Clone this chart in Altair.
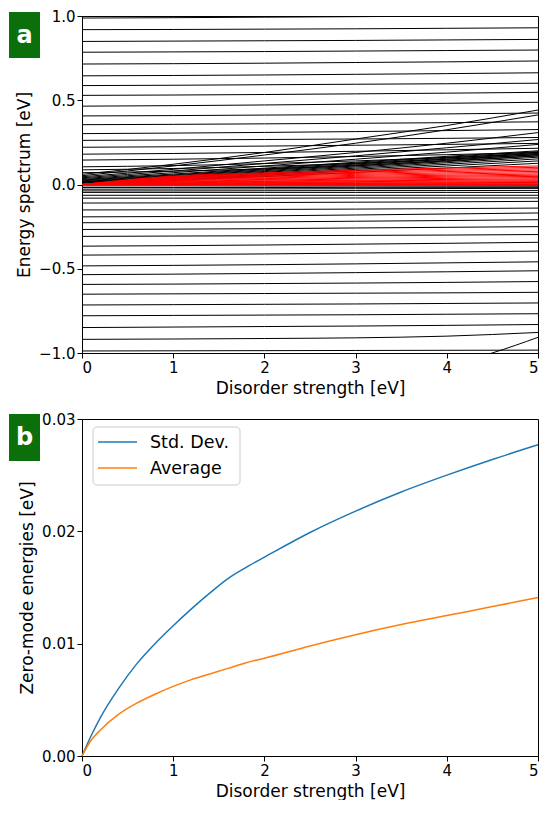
import altair as alt
import pandas as pd

# ---------------- Panel a: energy spectrum vs disorder ----------------
x_grid = [0, 1, 2, 3, 4, 5]

black_levels = [
    [0.988, 0.990, 0.993, 0.996, 1.000, 1.004],
    [0.919, 0.920, 0.922, 0.924, 0.927, 0.930],
    [0.849, 0.851, 0.853, 0.855, 0.858, 0.861],
    [0.785, 0.787, 0.789, 0.792, 0.795, 0.798],
    [0.715, 0.717, 0.720, 0.724, 0.728, 0.733],
    [0.645, 0.647, 0.650, 0.654, 0.658, 0.663],
    [0.587, 0.589, 0.592, 0.595, 0.598, 0.601],
    [0.529, 0.531, 0.534, 0.538, 0.542, 0.547],
    [0.465, 0.468, 0.472, 0.477, 0.482, 0.488],
    [0.407, 0.409, 0.412, 0.415, 0.419, 0.424],
    [0.355, 0.357, 0.360, 0.363, 0.367, 0.372],
    [0.302, 0.305, 0.309, 0.314, 0.320, 0.326],
    [0.262, 0.264, 0.267, 0.270, 0.274, 0.279],
    [0.221, 0.224, 0.228, 0.233, 0.238, 0.244],
    [0.180, 0.184, 0.190, 0.197, 0.206, 0.215],
    [0.145, 0.150, 0.157, 0.166, 0.177, 0.190],
    [0.105, 0.112, 0.124, 0.140, 0.160, 0.182],
    [0.087, 0.095, 0.108, 0.125, 0.150, 0.176],
    [0.070, 0.079, 0.093, 0.112, 0.140, 0.170],
    [0.060, 0.120, 0.190, 0.270, 0.350, 0.442],
    [0.052, 0.110, 0.175, 0.245, 0.325, 0.413],
    [0.046, 0.090, 0.140, 0.190, 0.245, 0.308],
    [0.040, 0.080, 0.125, 0.170, 0.218, 0.267],
    [0.035, 0.070, 0.110, 0.150, 0.192, 0.238],
    [0.030, 0.062, 0.097, 0.132, 0.167, 0.200],
    [0.026, 0.057, 0.092, 0.127, 0.162, 0.195],
    [0.022, 0.053, 0.087, 0.121, 0.156, 0.190],
    [0.018, 0.049, 0.082, 0.116, 0.150, 0.185],
    [0.015, 0.045, 0.077, 0.110, 0.144, 0.178],
    [0.012, 0.041, 0.072, 0.104, 0.136, 0.170],
    [0.009, 0.037, 0.066, 0.097, 0.129, 0.162],
    [0.006, 0.033, 0.060, 0.090, 0.120, 0.152],
    [0.004, 0.029, 0.054, 0.082, 0.110, 0.140],
    [0.002, 0.024, 0.047, 0.072, 0.098, 0.126],
    [-0.008, -0.008, -0.009, -0.009, -0.010, -0.010],
    [-0.018, -0.018, -0.018, -0.017, -0.017, -0.017],
    [-0.028, -0.027, -0.026, -0.025, -0.024, -0.023],
    [-0.038, -0.038, -0.037, -0.036, -0.036, -0.035],
    [-0.047, -0.047, -0.047, -0.047, -0.047, -0.047],
    [-0.064, -0.064, -0.064, -0.064, -0.064, -0.064],
    [-0.081, -0.081, -0.081, -0.080, -0.080, -0.080],
    [-0.110, -0.109, -0.107, -0.105, -0.103, -0.100],
    [-0.151, -0.150, -0.148, -0.146, -0.143, -0.140],
    [-0.192, -0.190, -0.186, -0.181, -0.175, -0.169],
    [-0.227, -0.225, -0.222, -0.218, -0.214, -0.209],
    [-0.267, -0.265, -0.262, -0.258, -0.254, -0.250],
    [-0.308, -0.306, -0.304, -0.302, -0.300, -0.297],
    [-0.366, -0.363, -0.359, -0.354, -0.349, -0.343],
    [-0.419, -0.416, -0.412, -0.407, -0.401, -0.395],
    [-0.483, -0.480, -0.476, -0.471, -0.465, -0.459],
    [-0.535, -0.532, -0.528, -0.523, -0.518, -0.512],
    [-0.593, -0.591, -0.588, -0.585, -0.581, -0.576],
    [-0.651, -0.649, -0.647, -0.645, -0.643, -0.640],
    [-0.715, -0.713, -0.711, -0.709, -0.706, -0.703],
    [-0.779, -0.777, -0.775, -0.773, -0.770, -0.767],
    [-0.849, -0.846, -0.843, -0.840, -0.836, -0.831],
    [-0.919, -0.917, -0.914, -0.910, -0.900, -0.878],
    [-0.988, -0.987, -0.986, -0.985, -0.984, -0.983],
    [-1.200, -1.170, -1.130, -1.100, -1.062, -0.907],
]

red_levels = [
    [0.0, -0.003, -0.004, -0.005, -0.005, -0.006],
    [0.0, -0.001, -0.002, -0.002, -0.003, -0.003],
    [0.0, 0.000, 0.000, 0.000, 0.000, 0.000],
    [0.0, 0.002, 0.003, 0.003, 0.004, 0.004],
    [0.0, 0.004, 0.005, 0.006, 0.007, 0.008],
    [0.0, 0.005, 0.008, 0.009, 0.011, 0.012],
    [0.0, 0.008, 0.011, 0.013, 0.015, 0.017],
    [0.0, 0.010, 0.014, 0.017, 0.020, 0.022],
    [0.0, 0.013, 0.018, 0.022, 0.025, 0.028],
    [0.0, 0.015, 0.021, 0.026, 0.030, 0.034],
    [0.0, 0.018, 0.026, 0.032, 0.036, 0.041],
    [0.0, 0.022, 0.030, 0.037, 0.043, 0.048],
    [0.0, 0.025, 0.035, 0.042, 0.049, 0.055],
    [0.0, 0.028, 0.039, 0.048, 0.055, 0.062],
    [0.0, 0.032, 0.044, 0.054, 0.062, 0.070],
    [0.0, 0.035, 0.049, 0.060, 0.069, 0.078],
    [0.0, 0.039, 0.054, 0.066, 0.077, 0.086],
    [0.0, 0.042, 0.059, 0.072, 0.084, 0.094],
    [0.0, 0.046, 0.064, 0.079, 0.091, 0.102],
    [0.0, 0.050, 0.069, 0.085, 0.098, 0.110],
]

# ---------------- Panel b: zero-mode statistics ----------------
disorder_b = [0.0, 0.1, 0.2, 0.4, 0.6, 0.8, 1.0, 1.2, 1.4, 1.6, 1.8,
              2.0, 2.5, 3.0, 3.5, 4.0, 4.5, 5.0]
std_dev = [0.0, 0.0018, 0.0034, 0.0060, 0.0082, 0.0100, 0.0116, 0.0131,
           0.0145, 0.0158, 0.0168, 0.0177, 0.0199, 0.0218, 0.0235, 0.0250,
           0.0264, 0.0277]
average = [0.0, 0.0014, 0.0023, 0.0037, 0.0047, 0.0055, 0.0062, 0.0068,
           0.0073, 0.0078, 0.0083, 0.0087, 0.0098, 0.0108, 0.0117, 0.0125,
           0.0133, 0.0141]
series_names = ["Std. Dev.", "Average"]
series_colors = ["#1f77b4", "#ff7f0e"]
legend_rows = [0, 1]

FONT = "DejaVu Sans"
GREEN = "#0b700b"
H = 337
W = 456


def lines_frame(levels, prefix):
    rows = []
    for i, lev in enumerate(levels):
        for xv, ev in zip(x_grid, lev):
            rows.append({"line": f"{prefix}{i}", "x": xv, "E": ev})
    return pd.DataFrame(rows)


df_black = lines_frame(black_levels, "k")
df_red = lines_frame(red_levels, "r")

xa = alt.X("x:Q", scale=alt.Scale(domain=[0, 5], nice=False),
           axis=alt.Axis(title="Disorder strength [eV]", values=[0, 1, 2, 3, 4, 5], format="d"))
ya = alt.Y("E:Q", scale=alt.Scale(domain=[-1, 1], nice=False),
           axis=alt.Axis(title="Energy spectrum [eV]", values=[-1, -0.5, 0, 0.5, 1], format=".1f"))

black = alt.Chart(df_black).mark_line(color="black", strokeWidth=1, clip=True,
                                      interpolate="monotone").encode(x=xa, y=ya, detail="line:N")
red = alt.Chart(df_red).mark_line(color="#ff0000", strokeWidth=1, clip=True,
                                  interpolate="monotone").encode(x=xa, y=ya, detail="line:N")


def tag(letter, y_top, y_bot, y_mid):
    box = alt.Chart(alt.Data(values=[{}])).mark_rect(color=GREEN).encode(
        x=alt.value(-73), x2=alt.value(-42), y=alt.value(y_top), y2=alt.value(y_bot))
    txt = alt.Chart(alt.Data(values=[{}])).mark_text(
        text=letter, font=FONT, fontSize=24, fontWeight="bold", color="white",
        align="center", baseline="middle").encode(x=alt.value(-57.5), y=alt.value(y_mid))
    return box + txt


panel_a = alt.layer(black, red, tag("a", -4, 42, 20)).properties(width=W, height=H)

df_b = pd.DataFrame({
    "x": disorder_b * 2,
    "v": std_dev + average,
    "s": [series_names[0]] * len(disorder_b) + [series_names[1]] * len(disorder_b),
})

lines_b = alt.Chart(df_b).mark_line(strokeWidth=1.5, interpolate="monotone").encode(
    x=alt.X("x:Q", scale=alt.Scale(domain=[0, 5], nice=False),
            axis=alt.Axis(title="Disorder strength [eV]", values=[0, 1, 2, 3, 4, 5], format="d")),
    y=alt.Y("v:Q", scale=alt.Scale(domain=[0, 0.03], nice=False),
            axis=alt.Axis(title="Zero-mode energies [eV]", values=[0, 0.01, 0.02, 0.03], format=".2f")),
    color=alt.Color("s:N", sort=series_names,
                    scale=alt.Scale(domain=series_names, range=series_colors),
                    legend=None),
)

# hand-built legend box (matplotlib style)
legend_df = pd.DataFrame({"s": series_names, "c": series_colors, "row": legend_rows})
leg_box = alt.Chart(alt.Data(values=[{}])).mark_rect(
    fill="white", fillOpacity=0.8, stroke="#cccccc", strokeWidth=1, cornerRadius=4
).encode(x=alt.value(11), x2=alt.value(158), y=alt.value(8), y2=alt.value(66))
leg_y = alt.Y("row:Q", scale=alt.Scale(domain=[0, 1], range=[23, 49]), axis=None)
leg_lines = alt.Chart(legend_df).mark_rule(strokeWidth=1.5).encode(
    x=alt.value(16), x2=alt.value(55), y=leg_y,
    color=alt.Color("c:N", scale=None, legend=None))
leg_text = alt.Chart(legend_df).mark_text(
    font=FONT, fontSize=17.5, align="left", baseline="middle", color="black", dy=1
).encode(x=alt.value(68), y=leg_y, text="s:N")

panel_b = alt.layer(lines_b, leg_box, leg_lines, leg_text, tag("b", -5, 42, 19)).resolve_scale(
    y="independent", color="independent").properties(width=W, height=H)

chart = alt.vconcat(panel_a, panel_b, spacing=14).properties(
    padding={"left": 0, "top": 0, "right": 0, "bottom": 0}
).configure_view(stroke="black", strokeWidth=1).configure_axis(
    labelFont=FONT, titleFont=FONT, labelFontSize=15, titleFontSize=17,
    titleFontWeight="normal", labelColor="black", titleColor="black",
    domainColor="black", tickColor="black", tickSize=5, grid=False,
    labelPadding=2, titlePadding=5, domain=True
)

chart.save("out.html", embed_options={"renderer": "svg", "actions": False})
